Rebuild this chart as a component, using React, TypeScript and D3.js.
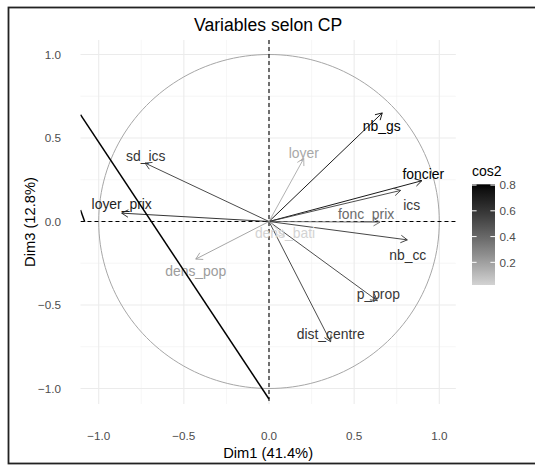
import React from "react";
import * as d3 from "d3";

const variables = ["nb_gs", "foncier", "ics", "fonc_prix", "nb_cc", "sd_ics", "loyer_prix", "dens_pop", "p_prop", "dist_centre", "dens_bati", "loyer"];
const dim1 = [0.665, 0.897, 0.773, 0.652, 0.812, -0.728, -0.865, -0.43, 0.636, 0.362, 0.09, 0.204];
const dim3 = [0.65, 0.244, 0.186, -0.004, -0.11, 0.35, 0.05, -0.225, -0.474, -0.72, -0.09, 0.377];
const cos2 = [0.8, 0.806, 0.58, 0.39, 0.62, 0.6, 0.7, 0.21, 0.58, 0.6, 0.024, 0.17];
// label anchor positions (ggrepel result), in data units
const labelX = [0.662, 0.906, 0.838, 0.57, 0.815, -0.724, -0.865, -0.43, 0.642, 0.362, 0.094, 0.204];
const labelY = [0.574, 0.286, 0.1, 0.044, -0.202, 0.39, 0.104, -0.294, -0.433, -0.673, -0.07, 0.412];

const xTicks = [-1, -0.5, 0, 0.5, 1];
const yTicks = [-1, -0.5, 0, 0.5, 1];
const minorTicks = [-0.75, -0.25, 0.25, 0.75];
const legendTicks = [0.2, 0.4, 0.6, 0.8];
const cos2Range = [0.024, 0.806];

// extra black lines seen in the panel
const lineA = [[-1.107, 0.64], [0, -1.063]];
const lineB = [[-1.107, 0.069], [-1.082, -0.001]];

const xLim = [-1.107, 1.097];
const yLim = [-1.093, 1.087];

const FONT = "'Liberation Sans', Arial, Helvetica, sans-serif";

export default function App() {
  const W = 535, H = 465;
  const x = d3.scaleLinear().domain([-1, 1]).range([98.7, 439.3]);
  const y = d3.scaleLinear().domain([-1, 1]).range([388.5, 54.5]);
  const px0 = x(xLim[0]), px1 = x(xLim[1]);
  const py0 = y(yLim[1]), py1 = y(yLim[0]);

  const color = d3.scaleLinear<string>().domain(cos2Range).range(["#d3d3d3", "#000000"]).interpolate(d3.interpolateLab).clamp(true);

  const circlePts = d3.range(0, 361, 2).map((a) => [Math.cos((a * Math.PI) / 180), Math.sin((a * Math.PI) / 180)]);
  const circlePath = d3.line().x((d: any) => x(d[0])).y((d: any) => y(d[1]))(circlePts as any) || "";

  const arrowHead = (x0: number, y0: number, x1: number, y1: number) => {
    const ang = Math.atan2(y1 - y0, x1 - x0);
    const L = 7.5, a = Math.PI / 6;
    const p = d3.path();
    p.moveTo(x1 - L * Math.cos(ang - a), y1 - L * Math.sin(ang - a));
    p.lineTo(x1, y1);
    p.lineTo(x1 - L * Math.cos(ang + a), y1 - L * Math.sin(ang + a));
    return p.toString();
  };

  // legend
  const lgX = 472, lgW = 23, lgTop = 184.3, lgBot = 285;
  const lgScale = d3.scaleLinear().domain(cos2Range).range([lgBot, lgTop]);
  const stops = d3.range(0, 1.0001, 0.05).map((t) => ({
    off: t,
    col: color(cos2Range[1] - t * (cos2Range[1] - cos2Range[0])),
  }));

  const fmt = d3.format(".1f");

  return (
    <svg width={W} height={H} style={{ position: "absolute", left: 0, top: 0 }} fontFamily={FONT}>
      <defs>
        <linearGradient id="lg" x1="0" y1="0" x2="0" y2="1">
          {stops.map((s, i) => (
            <stop key={i} offset={s.off} stopColor={s.col} />
          ))}
        </linearGradient>
        <clipPath id="panel">
          <rect x={px0} y={py0} width={px1 - px0} height={py1 - py0} />
        </clipPath>
      </defs>
      <rect x={0} y={0} width={W} height={H} fill="white" />
      <rect x={8.5} y={7.5} width={W + 10} height={456} fill="white" stroke="#222" strokeWidth={1.8} />

      {/* grid */}
      <g>
        {minorTicks.map((t) => (
          <line key={"mx" + t} x1={x(t)} x2={x(t)} y1={py0} y2={py1} stroke="#f0f0f0" strokeWidth={0.6} />
        ))}
        {minorTicks.map((t) => (
          <line key={"my" + t} y1={y(t)} y2={y(t)} x1={px0} x2={px1} stroke="#f0f0f0" strokeWidth={0.6} />
        ))}
        {xTicks.map((t) => (
          <line key={"gx" + t} x1={x(t)} x2={x(t)} y1={py0} y2={py1} stroke="#ebebeb" strokeWidth={1.1} />
        ))}
        {yTicks.map((t) => (
          <line key={"gy" + t} y1={y(t)} y2={y(t)} x1={px0} x2={px1} stroke="#ebebeb" strokeWidth={1.1} />
        ))}
      </g>

      <g clipPath="url(#panel)">
        <path d={circlePath} fill="none" stroke="#a6a6a6" strokeWidth={1} />
        <line x1={px0} x2={px1} y1={y(0)} y2={y(0)} stroke="black" strokeWidth={1.1} strokeDasharray="4,3" />
        <line x1={x(0)} x2={x(0)} y1={py0} y2={py1} stroke="black" strokeWidth={1.1} strokeDasharray="4,3" />

        {variables.map((v, i) => {
          const c = color(cos2[i]);
          const x1 = x(dim1[i]), y1 = y(dim3[i]);
          return (
            <g key={v}>
              <line x1={x(0)} y1={y(0)} x2={x1} y2={y1} stroke={c} strokeWidth={0.9} />
              <path d={arrowHead(x(0), y(0), x1, y1)} fill="none" stroke={c} strokeWidth={0.9} />
            </g>
          );
        })}
        {variables.map((v, i) => (
          <text key={"t" + v} x={x(labelX[i])} y={y(labelY[i])} dy="0.36em" textAnchor="middle" fontSize={13.9} fill={color(cos2[i])}>
            {v}
          </text>
        ))}

        {[lineA, lineB].map((l, i) => (
          <line key={"bl" + i} x1={x(l[0][0])} y1={y(l[0][1])} x2={x(l[1][0])} y2={y(l[1][1])} stroke="black" strokeWidth={1.5} />
        ))}
      </g>

      {/* axes labels */}
      {xTicks.map((t) => (
        <text key={"xt" + t} x={x(t)} y={440} textAnchor="middle" fontSize={11.7} fill="#4d4d4d">
          {fmt(t)}
        </text>
      ))}
      {yTicks.map((t) => (
        <text key={"yt" + t} x={61} y={y(t)} dy="0.36em" textAnchor="end" fontSize={11.7} fill="#4d4d4d">
          {fmt(t)}
        </text>
      ))}
      <text x={(px0 + px1) / 2} y={457.5} textAnchor="middle" fontSize={14.7} fill="black">
        Dim1 (41.4%)
      </text>
      <text transform={`translate(34.5, ${(py0 + py1) / 2}) rotate(-90)`} textAnchor="middle" fontSize={14.7} fill="black">
        Dim3 (12.8%)
      </text>
      <text x={(px0 + px1) / 2} y={31} textAnchor="middle" fontSize={17.6} fill="black">
        Variables selon CP
      </text>

      {/* legend */}
      <text x={lgX} y={176} fontSize={14} fill="black">
        cos2
      </text>
      <rect x={lgX} y={lgTop} width={lgW} height={lgBot - lgTop} fill="url(#lg)" />
      {legendTicks.map((t) => (
        <g key={"lt" + t}>
          <line x1={lgX} x2={lgX + 4.6} y1={lgScale(t)} y2={lgScale(t)} stroke="white" strokeWidth={1} />
          <line x1={lgX + lgW - 4.6} x2={lgX + lgW} y1={lgScale(t)} y2={lgScale(t)} stroke="white" strokeWidth={1} />
          <text x={lgX + lgW + 4.5} y={lgScale(t)} dy="0.36em" fontSize={11.7} fill="#4d4d4d">
            {fmt(t)}
          </text>
        </g>
      ))}
    </svg>
  );
}
